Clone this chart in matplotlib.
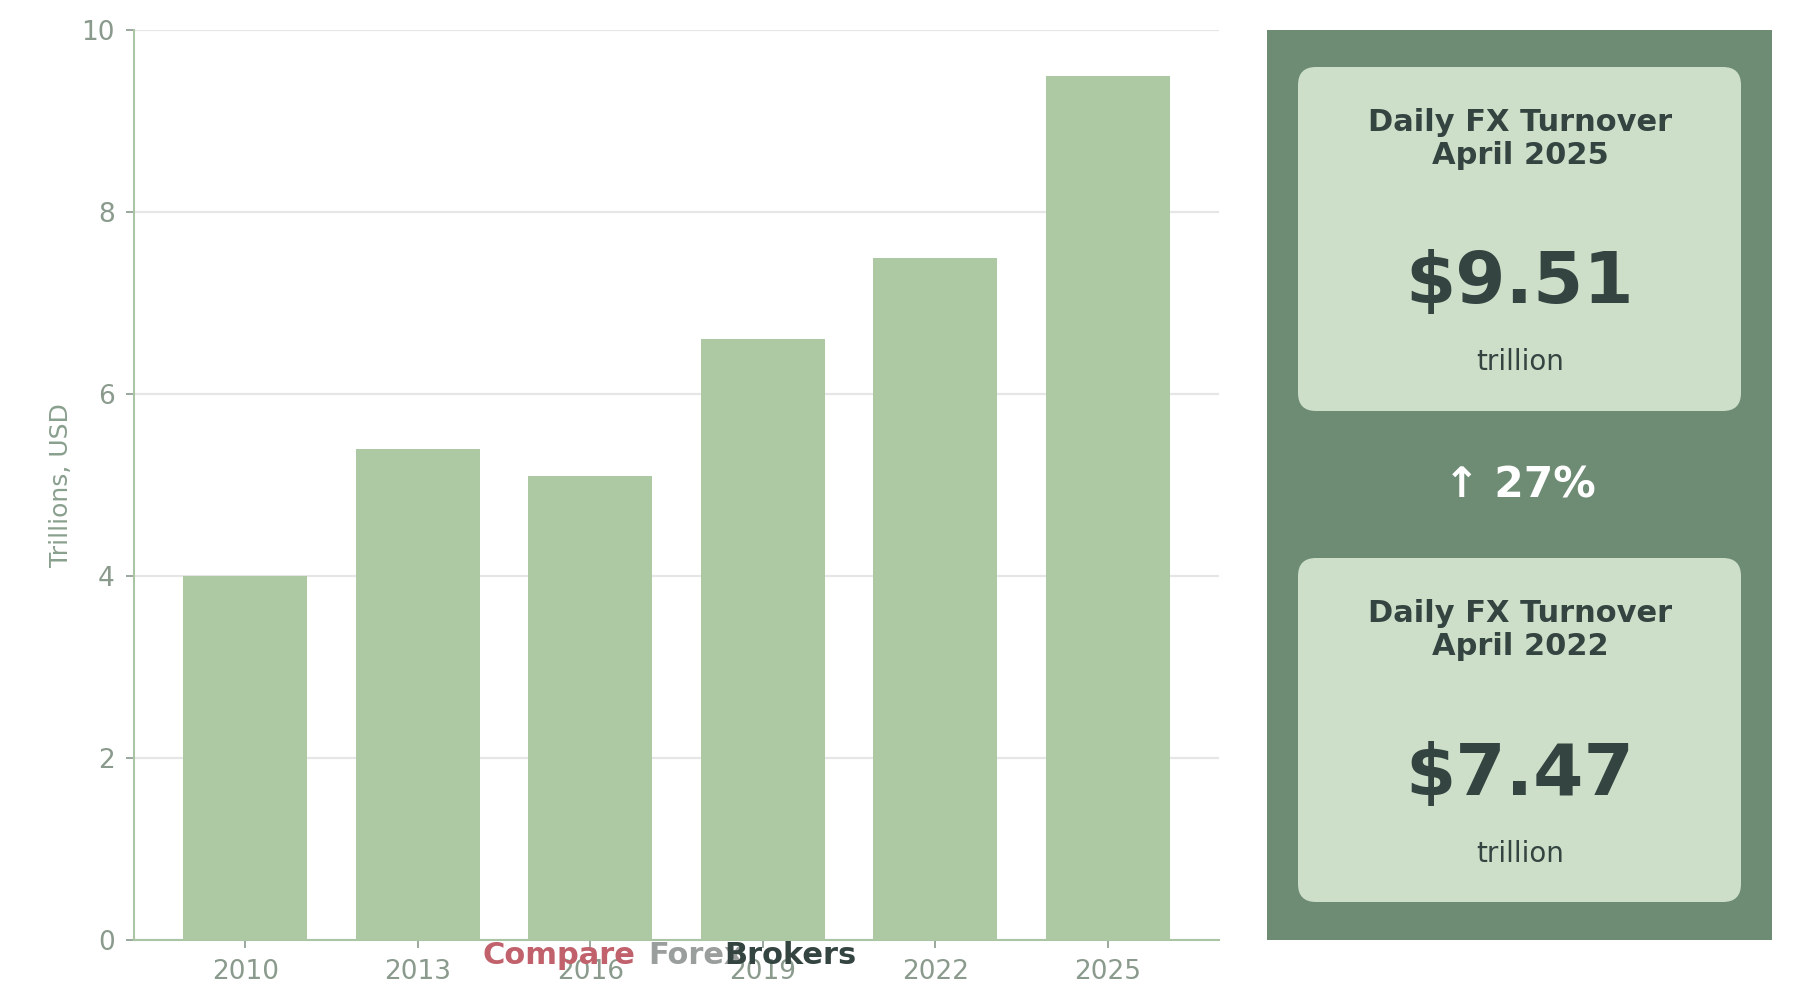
import matplotlib
matplotlib.use("Agg")
import matplotlib.pyplot as plt
from matplotlib.patches import FancyBboxPatch

plt.rcParams['font.family'] = ['DejaVu Sans']

# Data
years = ["2010", "2013", "2016", "2019", "2022", "2025"]
turnover = [4.0, 5.4, 5.1, 6.6, 7.5, 9.5]
y_ticks = [0, 2, 4, 6, 8, 10]

card_titles = ["Daily FX Turnover\nApril 2025", "Daily FX Turnover\nApril 2022"]
card_values = ["$9.51", "$7.47"]
card_unit = "trillion"
change_text = "\u2191 27%"

# Colours
bar_c = "#acc9a4"
panel_c = "#6e8b74"
card_c = "#cddfc9"
dark = "#344441"
tick_c = "#8a9a8c"
spine_c = "#a9c5a3"

W, H = 1800, 1000
fig = plt.figure(figsize=(18, 10), dpi=100)
fig.patch.set_facecolor("white")

# Bar chart axes
ax = fig.add_axes([134 / W, 1 - 940 / H, (1219 - 134) / W, (940 - 30) / H])
x = list(range(len(years)))
ax.bar(x, turnover, width=0.72, color=bar_c, zorder=3)
ax.set_xticks(x)
ax.set_xticklabels(years)
ax.set_yticks(y_ticks)
ax.set_ylim(0, 10)
ax.grid(axis="y", color="#e6e6e6", linewidth=1.6, zorder=0)
ax.set_axisbelow(True)
for s in ["top", "right"]:
    ax.spines[s].set_visible(False)
for s in ["left", "bottom"]:
    ax.spines[s].set_color(spine_c)
    ax.spines[s].set_linewidth(1.5)
ax.tick_params(axis="both", colors=tick_c, labelsize=19, length=6, width=1.2, pad=8)
ax.set_ylabel("Trillions, USD", fontsize=18, color="#8aa08e", labelpad=6)

# Right panel axes (units = pixels)
pw, ph = 1772 - 1267, 940 - 30
pax = fig.add_axes([1267 / W, 1 - 940 / H, pw / W, ph / H])
pax.set_xlim(0, pw)
pax.set_ylim(0, ph)
pax.set_facecolor(panel_c)
for s in pax.spines.values():
    s.set_visible(False)
pax.set_xticks([])
pax.set_yticks([])

cx = 253
cards = [(529, 873), (38, 382)]
title_y = [801, 310]
value_y = [657, 165]
unit_y = [578, 86]
for i, (y0, y1) in enumerate(cards):
    pax.add_patch(FancyBboxPatch((31, y0), 443, y1 - y0,
                                 boxstyle="round,pad=0,rounding_size=18",
                                 facecolor=card_c, edgecolor="none"))
    pax.text(cx, title_y[i], card_titles[i], ha="center", va="center",
             fontsize=22, fontweight="bold", color=dark, linespacing=1.15)
    pax.text(cx, value_y[i], card_values[i], ha="center", va="center",
             fontsize=52, fontweight="bold", color=dark)
    pax.text(cx, unit_y[i], card_unit, ha="center", va="center",
             fontsize=20, color=dark)

pax.text(cx, 454, change_text, ha="center", va="center",
         fontsize=30.5, fontweight="bold", color="white")

# Watermark
wm_y = 1 - 956 / H
fig.text(483 / W, wm_y, "Compare", color="#c0616b", fontsize=22,
         fontweight="bold", va="center", ha="left")
fig.text(648 / W, wm_y, "Forex", color="#9a9e9d", fontsize=22,
         fontweight="bold", va="center", ha="left")
fig.text(724 / W, wm_y, "Brokers", color=dark, fontsize=22,
         fontweight="bold", va="center", ha="left")

fig.savefig("out.png", dpi=100)
